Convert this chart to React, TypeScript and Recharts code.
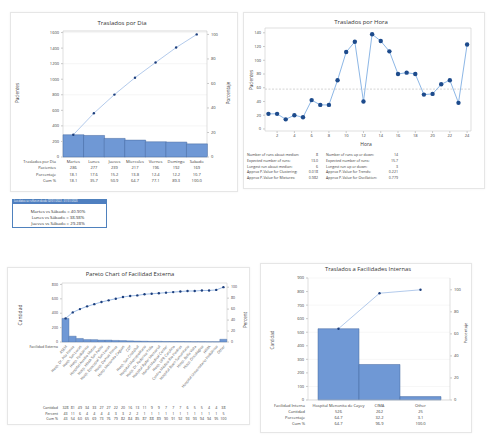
import React from "react";
import {
  ComposedChart,
  LineChart,
  Bar,
  Line,
  XAxis,
  YAxis,
  CartesianGrid,
  ReferenceArea,
  ReferenceLine,
} from "recharts";

// ---- Traslados por Dia
const days = ["Martes", "Lunes", "Jueves", "Miercoles", "Viernes", "Domingo", "Sabado"];
const dayCounts = [286, 277, 239, 217, 196, 192, 169];
const dayPct = [18.1, 17.6, 15.2, 13.8, 12.4, 12.2, 10.7];
const dayCum = [18.1, 35.7, 50.9, 64.7, 77.1, 89.3, 100.0];

// ---- Traslados por Hora
const hours = [1, 2, 3, 4, 5, 6, 7, 8, 9, 10, 11, 12, 13, 14, 15, 16, 17, 18, 19, 20, 21, 22, 23, 24];
const hourCounts = [22, 22, 14, 20, 17, 42, 35, 35, 71, 112, 127, 40, 138, 128, 113, 80, 82, 80, 50, 51, 65, 71, 38, 123];
const hourMedian = 58;
const runStatsLeft = [
  ["Number of runs about median:", "8"],
  ["Expected number of runs:", "13.0"],
  ["Longest run about median:", "6"],
  ["Approx P-Value for Clustering:", "0.018"],
  ["Approx P-Value for Mixtures:", "0.982"],
];
const runStatsRight = [
  ["Number of runs up or down:", "14"],
  ["Expected number of runs:", "15.7"],
  ["Longest run up or down:", "3"],
  ["Approx P-Value for Trends:", "0.221"],
  ["Approx P-Value for Oscillation:", "0.779"],
];

// ---- Facilidad Externa
const extNames = [
  "ASEM",
  "Hosp. Dr. Pila Ponce",
  "Hosp. San Lucas",
  "Hosp. Pediátrico",
  "Hospital Auxilio Mutuo",
  "Hosp. HIMA San Pablo",
  "Hosp. Episcopal San Lucas",
  "Hosp. Damas Ponce",
  "Hosp. Menonita Caguas",
  "CDT",
  "Hosp. San Cristóbal",
  "Hospital Metropolitano",
  "Hosp. Dr. Federico Trilla",
  "Hospital Ryder Memorial",
  "Manatí Medical Center",
  "Hosp. UPR Carolina",
  "Centro Médico Río Piedras",
  "Hospital Buen Samaritano",
  "Hosp. Bella Vista",
  "Hosp. Oncológico",
  "HIMA",
  "Hospital Universitario Pediátrico",
  "Other",
];
const extCounts = [328, 81, 49, 34, 33, 27, 27, 22, 20, 16, 13, 11, 9, 9, 7, 7, 7, 6, 5, 5, 4, 4, 38];
const extPct = [43, 11, 6, 4, 4, 4, 4, 3, 3, 2, 2, 1, 1, 1, 1, 1, 1, 1, 1, 1, 1, 1, 5];
const extCum = [43, 54, 60, 65, 69, 73, 76, 79, 82, 84, 85, 87, 88, 89, 90, 91, 92, 93, 93, 94, 94, 95, 100];

// ---- Facilidades Internas
const intNames = ["Hospital Menonita de Cayey", "CIMA", "Other"];
const intCounts = [526, 262, 25];
const intPct = [64.7, 32.2, 3.1];
const intCum = [64.7, 96.9, 100.0];

const dayData = days.map((d, i) => ({ name: d, count: dayCounts[i], cum: dayCum[i] }));
const hourData = hours.map((h, i) => ({ hour: h, n: hourCounts[i] }));
const extData = extNames.map((d, i) => ({ name: d, count: extCounts[i], cum: extCum[i] }));
const intData = intNames.map((d, i) => ({ name: d, count: intCounts[i], cum: intCum[i] }));

const dayTotal = dayCounts.reduce((a, b) => a + b, 0);
const extTotal = extCounts.reduce((a, b) => a + b, 0);
const intTotal = intCounts.reduce((a, b) => a + b, 0);

const FONT = '"Open Sans", "Noto Sans", sans-serif';
const INK = "#3b3b3b";
const BAR = "#6f98d5";
const BAR_EDGE = "#46699f";
const CUM = "#9fbde6";
const DOT = "#1d3f7d";
const FRAME = "#c9c9c9";
const GRID = "#ededed";
const tk = { fontSize: 4, fill: INK, fontFamily: FONT };

function Txt({ x, y, s = 4, a = "start", c = INK, rot = 0, w = 400, children }: any) {
  const tx = a === "end" ? "-100%" : a === "middle" ? "-50%" : "0";
  return (
    <div
      style={{
        position: "absolute",
        left: x,
        top: y,
        fontSize: s,
        lineHeight: 1,
        color: c,
        fontWeight: w,
        whiteSpace: "nowrap",
        transform: `translate(${tx},-50%)` + (rot ? ` rotate(${rot}deg)` : ""),
      }}
    >
      {children}
    </div>
  );
}

function Card({ x, y, w, h }: any) {
  return (
    <div
      style={{
        position: "absolute",
        left: x,
        top: y,
        width: w,
        height: h,
        background: "#fff",
        border: "1px solid #e6e6e6",
        boxShadow: "0 0 2px rgba(0,0,0,0.06)",
        boxSizing: "border-box",
      }}
    />
  );
}

const DayTick = ({ x, y, payload }: any) => {
  const i = days.indexOf(payload.value);
  const p = { x, textAnchor: "middle" as const, fontSize: 4, fill: INK, fontFamily: FONT, dominantBaseline: "middle" as const };
  return (
    <g>
      <text {...p} y={y + 5}>{days[i]}</text>
      <text {...p} y={y + 11}>{dayCounts[i]}</text>
      <text {...p} y={y + 18}>{dayPct[i].toFixed(1)}</text>
      <text {...p} y={y + 24}>{dayCum[i].toFixed(1)}</text>
    </g>
  );
};

const ExtTick = ({ x, y, payload }: any) => {
  const i = extNames.indexOf(payload.value);
  const p = { x, textAnchor: "middle" as const, fontSize: 3.6, fill: INK, fontFamily: FONT, dominantBaseline: "middle" as const };
  return (
    <g>
      <text
        x={x + 1}
        y={y + 4}
        textAnchor="end"
        fontSize={3.6}
        fill="#555"
        fontFamily={FONT}
        dominantBaseline="middle"
        transform={`rotate(-50 ${x + 1} ${y + 4})`}
      >
        {extNames[i]}
      </text>
      <text {...p} y={y + 66}>{extCounts[i]}</text>
      <text {...p} y={y + 72}>{extPct[i]}</text>
      <text {...p} y={y + 77}>{extCum[i]}</text>
    </g>
  );
};

const IntTick = ({ x, y, payload }: any) => {
  const i = intNames.indexOf(payload.value);
  const p = { x, textAnchor: "middle" as const, fontSize: 4, fill: INK, fontFamily: FONT, dominantBaseline: "middle" as const };
  return (
    <g>
      <text {...p} y={y + 6}>{intNames[i]}</text>
      <text {...p} y={y + 12}>{intCounts[i]}</text>
      <text {...p} y={y + 18}>{intPct[i].toFixed(1)}</text>
      <text {...p} y={y + 24}>{intCum[i].toFixed(1)}</text>
    </g>
  );
};

const smallDot = { r: 1.2, fill: DOT, stroke: DOT, strokeWidth: 0 };

export default function App() {
  const dayMax = 1620;
  const extMax = 820;
  const intMax = 900;
  return (
    <div
      style={{
        position: "absolute",
        left: 0,
        top: 0,
        width: 497,
        height: 441,
        background: "#fff",
        fontFamily: FONT,
        overflow: "hidden",
      }}
    >
      <Card x={10} y={12} w={228} h={180} />
      <Card x={243} y={12} w={242} h={177} />
      <Card x={7} y={267} w={243} h={158} />
      <Card x={260} y={263} w={212} h={170} />

      {/* Traslados por Dia */}
      <div style={{ position: "absolute", left: 10, top: 12 }}>
        <ComposedChart
          width={227}
          height={183}
          data={dayData}
          margin={{ top: 19, right: 0, bottom: 8, left: 0 }}
          barCategoryGap={0}
        >
          <CartesianGrid yAxisId="cnt" vertical={false} stroke={GRID} strokeWidth={0.5} />
          <XAxis dataKey="name" tick={<DayTick />} tickLine={false} axisLine={false} height={30} interval={0} tickSize={0} tickMargin={0} />
          <YAxis yAxisId="cnt" width={53} domain={[0, dayMax]} ticks={[0, 200, 400, 600, 800, 1000, 1200, 1400, 1600]} tick={tk} tickSize={2} tickMargin={2} axisLine={false} stroke={FRAME} />
          <YAxis yAxisId="pct" orientation="right" width={30} domain={[0, (dayMax / dayTotal) * 100]} ticks={[0, 20, 40, 60, 80, 100]} tick={tk} tickSize={2} tickMargin={2} axisLine={false} stroke={FRAME} />
          <ReferenceArea yAxisId="cnt" y1={0} y2={dayMax} fill="none" stroke={FRAME} strokeWidth={0.6} ifOverflow="visible" />
          <Bar yAxisId="cnt" dataKey="count" fill={BAR} stroke={BAR_EDGE} strokeWidth={0.5} isAnimationActive={false} />
          <Line yAxisId="pct" dataKey="cum" stroke={CUM} strokeWidth={0.8} dot={smallDot} isAnimationActive={false} />
        </ComposedChart>
      </div>
      <Txt x={122} y={23} s={6} a="middle" c="#333">Traslados por Dia</Txt>
      <Txt x={17} y={93} s={4.5} a="middle" rot={-90}>Pacientes</Txt>
      <Txt x={228} y={93} s={4.5} a="middle" rot={-90}>Porcentaje</Txt>
      <Txt x={56} y={162} a="end">Traslados por Dia</Txt>
      <Txt x={56} y={168} a="end">Pacientes</Txt>
      <Txt x={56} y={175} a="end">Porcentaje</Txt>
      <Txt x={56} y={181} a="end">Cum %</Txt>

      {/* text box */}
      <div
        style={{
          position: "absolute",
          left: 12,
          top: 199,
          width: 95,
          height: 29,
          border: "1px solid #4f81bd",
          boxSizing: "border-box",
          background: "#fff",
        }}
      >
        <div style={{ height: 3.5, background: "#4f7fc0" }} />
      </div>
      <Txt x={14} y={200.8} s={2.6} c="#fff">Los datos se refieren desde 02/01/2022 - 01/31/2023</Txt>
      <Txt x={58} y={211} s={4.3} a="middle" c="#333">Martes vs Sábado = 40.90%</Txt>
      <Txt x={58} y={217} s={4.3} a="middle" c="#333">Lunes vs Sábado = 38.98%</Txt>
      <Txt x={58} y={223} s={4.3} a="middle" c="#333">Jueves vs Sábado = 29.28%</Txt>

      {/* Traslados por Hora */}
      <div style={{ position: "absolute", left: 243, top: 12 }}>
        <LineChart width={242} height={178} data={hourData} margin={{ top: 16, right: 14, bottom: 39, left: 0 }}>
          <XAxis dataKey="hour" type="number" domain={[0.6, 24.45]} ticks={[2, 4, 6, 8, 10, 12, 14, 16, 18, 20, 22, 24]} tick={tk} tickSize={2} tickMargin={1} axisLine={false} stroke={FRAME} height={20} allowDataOverflow />
          <YAxis width={22} domain={[-3, 147]} ticks={[0, 20, 40, 60, 80, 100, 120, 140]} tick={tk} tickSize={2} tickMargin={2} axisLine={false} stroke={FRAME} allowDataOverflow />
          <ReferenceArea x1={0.6} x2={24.45} y1={-3} y2={147} fill="none" stroke={FRAME} strokeWidth={0.6} ifOverflow="visible" />
          <ReferenceLine y={hourMedian} stroke="#b9b9b9" strokeDasharray="2 1.5" strokeWidth={0.6} />
          <Line dataKey="n" stroke="#8db7e6" strokeWidth={1} dot={{ r: 2.2, fill: "#1d4b8c", stroke: "#1d4b8c", strokeWidth: 0 }} isAnimationActive={false} />
        </LineChart>
      </div>
      <Txt x={361} y={21.5} s={6} a="middle" c="#333">Traslados por Hora</Txt>
      <Txt x={251} y={80} s={4.5} a="middle" rot={-90}>Pacientes</Txt>
      <Txt x={366} y={144} s={5} a="middle">Hora</Txt>
      {runStatsLeft.map(([l, v], i) => (
        <React.Fragment key={"l" + i}>
          <Txt x={247} y={155 + i * 5.8} s={3.6}>{l}</Txt>
          <Txt x={318} y={155 + i * 5.8} s={3.6} a="end">{v}</Txt>
        </React.Fragment>
      ))}
      {runStatsRight.map(([l, v], i) => (
        <React.Fragment key={"r" + i}>
          <Txt x={326} y={155 + i * 5.8} s={3.6}>{l}</Txt>
          <Txt x={398} y={155 + i * 5.8} s={3.6} a="end">{v}</Txt>
        </React.Fragment>
      ))}

      {/* Pareto Facilidad Externa */}
      <div style={{ position: "absolute", left: 7, top: 267 }}>
        <ComposedChart
          width={240}
          height={158}
          data={extData}
          margin={{ top: 16, right: 6, bottom: 3, left: 0 }}
          barCategoryGap={0}
        >
          <XAxis dataKey="name" tick={<ExtTick />} tickLine={false} axisLine={false} height={80} interval={0} tickSize={0} tickMargin={0} />
          <YAxis yAxisId="cnt" width={55} domain={[0, extMax]} ticks={[0, 100, 200, 300, 400, 500, 600, 700, 800]} tick={{ ...tk, fontSize: 3.6 }} tickSize={2} tickMargin={2} axisLine={false} stroke={FRAME} />
          <YAxis yAxisId="pct" orientation="right" width={14} domain={[0, (extMax / extTotal) * 100]} ticks={[0, 20, 40, 60, 80, 100]} tick={{ ...tk, fontSize: 3.6 }} tickSize={2} tickMargin={2} axisLine={false} stroke={FRAME} />
          <ReferenceArea yAxisId="cnt" y1={0} y2={extMax} fill="none" stroke={FRAME} strokeWidth={0.6} ifOverflow="visible" />
          <Bar yAxisId="cnt" dataKey="count" fill={BAR} stroke={BAR_EDGE} strokeWidth={0.4} isAnimationActive={false} />
          <Line yAxisId="pct" dataKey="cum" stroke={CUM} strokeWidth={1} dot={smallDot} isAnimationActive={false} />
        </ComposedChart>
      </div>
      <Txt x={130} y={275} s={5.8} a="middle" c="#333">Pareto Chart of Facilidad Externa</Txt>
      <Txt x={20} y={315} s={5} a="middle" rot={-90}>Cantidad</Txt>
      <Txt x={245} y={320} s={4.5} a="middle" rot={-90}>Percent</Txt>
      <Txt x={58} y={347} s={3.6} a="end">Facilidad Externa</Txt>
      <Txt x={58} y={408} s={3.6} a="end">Cantidad</Txt>
      <Txt x={58} y={414} s={3.6} a="end">Percent</Txt>
      <Txt x={58} y={419} s={3.6} a="end">Cum %</Txt>

      {/* Traslados a Facilidades Internas */}
      <div style={{ position: "absolute", left: 260, top: 263 }}>
        <ComposedChart
          width={212}
          height={170}
          data={intData}
          margin={{ top: 15, right: 4, bottom: 5, left: 0 }}
          barCategoryGap={0}
        >
          <CartesianGrid yAxisId="cnt" vertical={false} stroke={GRID} strokeWidth={0.5} />
          <XAxis dataKey="name" tick={<IntTick />} tickLine={false} axisLine={{ stroke: FRAME, strokeWidth: 0.6 }} height={28} interval={0} tickSize={0} tickMargin={0} padding={{ left: 10, right: 9 }} />
          <YAxis yAxisId="cnt" width={48} domain={[0, intMax]} ticks={[0, 100, 200, 300, 400, 500, 600, 700, 800, 900]} tick={tk} tickSize={2} tickMargin={2} axisLine={{ stroke: FRAME, strokeWidth: 0.6 }} stroke={FRAME} />
          <YAxis yAxisId="pct" orientation="right" width={18} domain={[0, (intMax / intTotal) * 100]} ticks={[0, 20, 40, 60, 80, 100]} tick={tk} tickSize={2} tickMargin={2} axisLine={{ stroke: FRAME, strokeWidth: 0.6 }} stroke={FRAME} />
          <Bar yAxisId="cnt" dataKey="count" fill={BAR} stroke={BAR_EDGE} strokeWidth={0.5} isAnimationActive={false} />
          <Line yAxisId="pct" dataKey="cum" stroke={CUM} strokeWidth={0.8} dot={smallDot} isAnimationActive={false} />
        </ComposedChart>
      </div>
      <Txt x={368} y={270} s={5.8} a="middle" c="#333">Traslados a Facilidades Internas</Txt>
      <Txt x={272} y={340} s={4.5} a="middle" rot={-90} c="#555">Cantidad</Txt>
      <Txt x={466} y={333} s={4.2} a="middle" rot={-90}>Porcentaje</Txt>
      <Txt x={305} y={406} a="end">Facilidad Interna</Txt>
      <Txt x={305} y={412} a="end">Cantidad</Txt>
      <Txt x={305} y={418} a="end">Porcentaje</Txt>
      <Txt x={305} y={424} a="end">Cum %</Txt>
    </div>
  );
}
